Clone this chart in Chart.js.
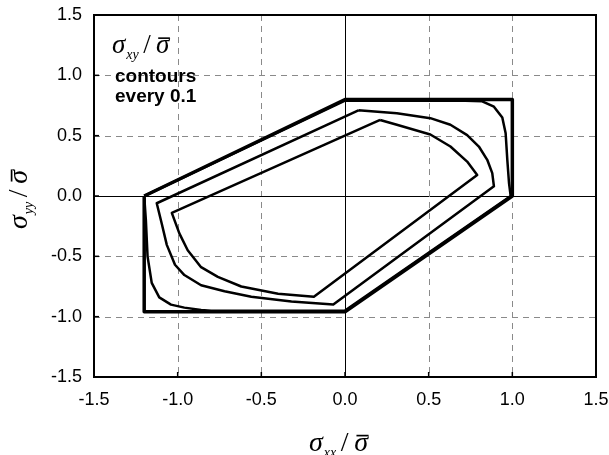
<!DOCTYPE html>
<html>
<head>
<meta charset="utf-8">
<script src="https://cdn.jsdelivr.net/npm/chart.js@4.4.0/dist/chart.umd.min.js"></script>
<style>body{margin:0;background:#fff}</style>
</head>
<body>
<canvas id="chart" width="609" height="455"></canvas>
<script>
const tickValues = [-1.5, -1.0, -0.5, 0, 0.5, 1.0, 1.5];

// outer yield surface
const outerX = [-1.2, 0, 1.0, 1.0, 0, -1.2, -1.2];
const outerY = [0, 0.8, 0.8, 0, -0.96, -0.96, 0];

// first contour (rounded corners)
const c1X = [-1.2, 0, 0.72, 0.82, 0.89, 0.94, 0.96, 0.97, 0.98, 0.99, 0, -0.8, -0.86, -0.96, -1.04, -1.11, -1.155, -1.18, -1.19, -1.2];
const c1Y = [0, 0.79, 0.79, 0.785, 0.74, 0.65, 0.52, 0.30, 0.11, 0, -0.95, -0.95, -0.945, -0.925, -0.90, -0.84, -0.72, -0.5, -0.2, 0];

// second contour
const c2X = [0.08, 0.31, 0.51, 0.63, 0.73, 0.80, 0.85, 0.88, 0.89, -0.07, -0.32, -0.56, -0.72, -0.86, -0.96, -1.016, -1.065, -1.095, -1.125, 0.08];
const c2Y = [0.71, 0.685, 0.645, 0.59, 0.505, 0.41, 0.30, 0.19, 0.08, -0.90, -0.875, -0.835, -0.79, -0.74, -0.655, -0.57, -0.405, -0.23, -0.06, 0.71];

// innermost contour
const c3X = [0.21, 0.31, 0.51, 0.63, 0.73, 0.79, -0.186, -0.40, -0.62, -0.76, -0.86, -0.94, -0.99, -1.035, 0.21];
const c3Y = [0.63, 0.59, 0.51, 0.41, 0.285, 0.175, -0.835, -0.81, -0.75, -0.67, -0.59, -0.45, -0.31, -0.14, 0.63];

function toPoints(xs, ys) {
    return xs.map((x, i) => ({ x: x, y: ys[i] }));
}

function line(xs, ys, width) {
    return {
        data: toPoints(xs, ys),
        showLine: true,
        borderColor: '#000',
        borderWidth: width,
        borderJoinStyle: 'round',
        pointRadius: 0,
        tension: 0,
        fill: false
    };
}

// draws sigma with subscript, slash and sigma-bar starting at (x, y) baseline
function drawSigmaLabel(ctx, sub, x, y, size) {
    ctx.fillStyle = '#000';
    ctx.textBaseline = 'alphabetic';
    ctx.textAlign = 'left';
    ctx.font = 'italic ' + size + 'px "Liberation Serif"';
    ctx.fillText('σ', x, y);
    let w = ctx.measureText('σ').width;
    ctx.font = 'italic ' + Math.round(size * 0.5) + 'px "Liberation Serif"';
    ctx.fillText(sub, x + w + 1, y + size * 0.22);
    let w2 = ctx.measureText(sub).width;
    ctx.font = size + 'px "Liberation Serif"';
    let sx = x + w + w2 + size * 0.2;
    ctx.fillText('/', sx, y);
    let sw = ctx.measureText('/').width;
    ctx.font = 'italic ' + size + 'px "Liberation Serif"';
    let bx = sx + sw + size * 0.2;
    ctx.fillText('σ', bx, y);
    let bw = ctx.measureText('σ').width;
    ctx.strokeStyle = '#000';
    ctx.lineWidth = Math.max(1.5, size * 0.06);
    ctx.beginPath();
    ctx.moveTo(bx + size * 0.08, y - size * 0.55);
    ctx.lineTo(bx + bw + size * 0.02, y - size * 0.55);
    ctx.stroke();
}

const framePlugin = {
    id: 'frame',
    beforeDatasetsDraw(chart) {
        const ctx = chart.ctx;
        const area = chart.chartArea;
        const xs = chart.scales.x;
        const ys = chart.scales.y;
        ctx.save();
        tickValues.forEach(v => {
            if (Math.abs(v) === 1.5) return;
            const zero = v === 0;
            ctx.strokeStyle = zero ? '#000' : '#8a8a8a';
            ctx.lineWidth = 1;
            ctx.setLineDash(zero ? [] : [6, 5]);
            const px = Math.round(xs.getPixelForValue(v)) + 0.5;
            ctx.beginPath();
            ctx.moveTo(px, area.top);
            ctx.lineTo(px, area.bottom);
            ctx.stroke();
            const py = Math.round(ys.getPixelForValue(v)) + 0.5;
            ctx.beginPath();
            ctx.moveTo(area.left, py);
            ctx.lineTo(area.right, py);
            ctx.stroke();
        });
        ctx.restore();
    },
    afterDatasetsDraw(chart) {
        const ctx = chart.ctx;
        const area = chart.chartArea;
        const xs = chart.scales.x;
        const ys = chart.scales.y;
        ctx.save();
        ctx.setLineDash([]);
        ctx.strokeStyle = '#000';
        ctx.lineWidth = 2;
        ctx.strokeRect(area.left, area.top, area.right - area.left, area.bottom - area.top);
        // small inner ticks
        ctx.lineWidth = 1.5;
        tickValues.forEach(v => {
            const px = xs.getPixelForValue(v);
            ctx.beginPath();
            ctx.moveTo(px, area.bottom);
            ctx.lineTo(px, area.bottom - 5);
            ctx.stroke();
            const py = ys.getPixelForValue(v);
            ctx.beginPath();
            ctx.moveTo(area.left, py);
            ctx.lineTo(area.left + 5, py);
            ctx.stroke();
        });

        // label inside the plot
        drawSigmaLabel(ctx, 'xy', 112, 53, 27);
        ctx.font = 'bold 19px "Liberation Sans"';
        ctx.fillText('contours', 115, 82);
        ctx.fillText('every 0.1', 115, 102);

        // axis titles
        drawSigmaLabel(ctx, 'xx', 309, 451, 28);
        ctx.translate(27, 229);
        ctx.rotate(-Math.PI / 2);
        drawSigmaLabel(ctx, 'yy', 0, 0, 28);
        ctx.restore();
    }
};

const tickFont = { family: '"Liberation Sans"', size: 18 };

new Chart(document.getElementById('chart'), {
    type: 'scatter',
    data: {
        datasets: [
            line(outerX, outerY, 3.5),
            line(c1X, c1Y, 2.5),
            line(c2X, c2Y, 2.5),
            line(c3X, c3Y, 2.5)
        ]
    },
    options: {
        responsive: false,
        animation: false,
        layout: { padding: { left: 0, top: 15, right: 13, bottom: 0 } },
        plugins: {
            legend: { display: false },
            tooltip: { enabled: false }
        },
        scales: {
            x: {
                min: -1.5,
                max: 1.5,
                grid: { display: false, drawTicks: false },
                border: { display: false },
                afterFit: s => {
                    s.height = 78;
                    s.paddingLeft = 0;
                    s.paddingRight = 0;
                },
                ticks: {
                    stepSize: 0.5,
                    padding: 12,
                    color: '#000',
                    font: tickFont,
                    maxRotation: 0,
                    callback: v => v.toFixed(1)
                }
            },
            y: {
                min: -1.5,
                max: 1.5,
                grid: { display: false, drawTicks: false },
                border: { display: false },
                afterFit: s => {
                    s.width = 94;
                    s.paddingTop = 0;
                    s.paddingBottom = 0;
                },
                ticks: {
                    stepSize: 0.5,
                    padding: 12,
                    color: '#000',
                    font: tickFont,
                    callback: v => v.toFixed(1)
                }
            }
        }
    },
    plugins: [framePlugin]
});
</script>
</body>
</html>
